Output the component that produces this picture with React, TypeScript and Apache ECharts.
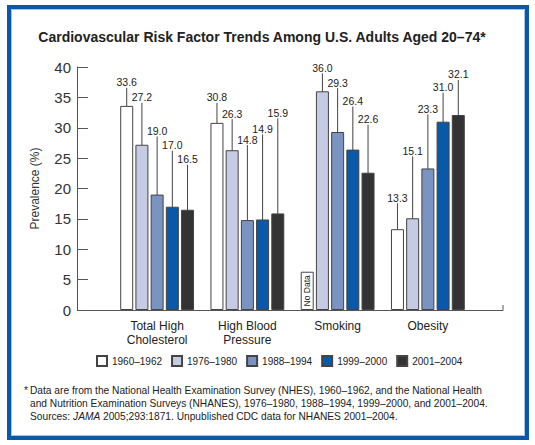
import React, { useEffect, useRef } from "react";
import * as echarts from "echarts";

const FONT = '"Liberation Sans", Arial, Helvetica, sans-serif';

const CATEGORIES = ["Total High\nCholesterol", "High Blood\nPressure", "Smoking", "Obesity"];
const YEARS = ["1960–1962", "1976–1980", "1988–1994", "1999–2000", "2001–2004"];

const S1960: (number | null)[] = [33.6, 30.8, null, 13.3];
const S1976 = [27.2, 26.3, 36.0, 15.1];
const S1988 = [19.0, 14.8, 29.3, 23.3];
const S1999 = [17.0, 14.9, 26.4, 31.0];
const S2001 = [16.5, 15.9, 22.6, 32.1];

const Y_TICKS = { min: 0, max: 40, interval: 5 };

// height (axis units) of the "No Data" placeholder box
const NO_DATA_BOX = 6.3;

// layout: px between bar top and its value label (staggered labels with leader lines)
const LABEL_LIFT: (number | null)[][] = [
  [15, 17, null, 23],
  [39, 28, 15, 59],
  [55, 72, 41, 51],
  [53, 82, 40, 26],
  [42, 92, 45, 32],
];

const COLORS = ["#ffffff", "#c4cbe3", "#7a93c1", "#0a58a8", "#333333"];

const FOOTNOTE = [
  "Data are from the National Health Examination Survey (NHES), 1960–1962, and the National Health",
  "and Nutrition Examination Surveys (NHANES), 1976–1980, 1988–1994, 1999–2000, and 2001–2004.",
  "Sources: {i|JAMA} 2005;293:1871. Unpublished CDC data for NHANES 2001–2004.",
];

export default function App() {
  const ref = useRef<HTMLDivElement>(null);
  useEffect(() => {
    if (!ref.current) return;
    const chart = echarts.init(ref.current, null, { renderer: "svg" });
    const values = [S1960, S1976, S1988, S1999, S2001];
    const series = YEARS.map((name, si) => ({
      type: "bar",
      name,
      barWidth: 13,
      barGap: "17%",
      itemStyle: { color: COLORS[si], borderColor: "#444", borderWidth: 1 },
      label: {
        show: true,
        position: "top",
        distance: 0,
        padding: [0, 0, 3, 0],
        fontSize: 10.5,
        fontFamily: FONT,
        color: "#222",
        formatter: (p: any) => Number(p.value).toFixed(1),
      },
      labelLine: { show: true, lineStyle: { color: "#444", width: 1 } },
      labelLayout: (p: any) => {
        const lift = LABEL_LIFT[si][p.dataIndex];
        if (lift == null) return {};
        const top = Math.min(p.rect.y, p.rect.y + p.rect.height);
        return {
          x: p.rect.x + p.rect.width / 2,
          y: top - lift,
          align: "center",
          verticalAlign: "bottom",
        };
      },
      data: values[si].map((v) =>
        v == null
          ? {
              value: NO_DATA_BOX,
              itemStyle: { color: "#ffffff" },
              label: {
                show: true,
                position: "inside",
                rotate: 90,
                padding: 0,
                fontSize: 8.5,
                color: "#222",
                formatter: "No Data",
              },
              labelLine: { show: false },
            }
          : v
      ),
    }));

    const footGraphics: any[] = FOOTNOTE.map((t, i) => ({
      type: "text",
      x: 30,
      y: 390 + i * 13,
      style: {
        text: t,
        fontSize: 10.2,
        fontFamily: FONT,
        fill: "#222",
        textVerticalAlign: "middle",
        rich: { i: { fontStyle: "italic", fontSize: 10.2, fontFamily: FONT, fill: "#222" } },
      },
    }));

    chart.setOption({
      animation: false,
      backgroundColor: "#ffffff",
      textStyle: { fontFamily: FONT },
      grid: { left: 112, right: 62, top: 67, bottom: 135 },
      legend: {
        left: 91,
        top: 350,
        icon: "rect",
        itemWidth: 10,
        itemHeight: 10,
        itemGap: 9,
        textStyle: { fontSize: 10, color: "#222", fontFamily: FONT },
        data: YEARS,
      },
      xAxis: {
        type: "category",
        data: CATEGORIES,
        axisLine: { show: false },
        axisTick: { show: false },
        axisLabel: { fontSize: 12, color: "#222", lineHeight: 14, margin: 9, interval: 0, fontFamily: FONT },
      },
      yAxis: {
        type: "value",
        min: Y_TICKS.min,
        max: Y_TICKS.max,
        interval: Y_TICKS.interval,
        offset: 35,
        axisLine: { show: true, lineStyle: { color: "#555", width: 1 } },
        axisTick: { show: true, inside: true, length: 11, lineStyle: { color: "#555" } },
        axisLabel: { fontSize: 15, color: "#333", margin: 6, fontFamily: FONT },
        splitLine: { show: false },
        name: "Prevalence (%)",
        nameLocation: "middle",
        nameGap: 36,
        nameTextStyle: { fontSize: 12, color: "#333", fontFamily: FONT },
      },
      series,
      graphic: [
        {
          type: "rect",
          shape: { x: 9, y: 7, width: 518, height: 431 },
          style: { fill: "none", stroke: "#0a58a8", lineWidth: 4 },
          silent: true,
        },
        {
          type: "rect",
          shape: { x: 11.5, y: 9.5, width: 513, height: 426 },
          style: { fill: "none", stroke: "#a9c3e3", lineWidth: 1 },
          silent: true,
        },
        {
          type: "text",
          x: 262,
          y: 37,
          style: {
            text: "Cardiovascular Risk Factor Trends Among U.S. Adults Aged 20–74*",
            fontSize: 14,
            fontWeight: "bold",
            fontFamily: FONT,
            fill: "#222",
            textAlign: "center",
            textVerticalAlign: "middle",
          },
        },
        {
          type: "line",
          shape: { x1: 77, y1: 310.5, x2: 503, y2: 310.5 },
          style: { stroke: "#555", lineWidth: 1 },
          z: 10,
        },
        {
          type: "line",
          shape: { x1: 503, y1: 310.5, x2: 503, y2: 305 },
          style: { stroke: "#555", lineWidth: 1 },
          z: 10,
        },
        {
          type: "text",
          x: 24,
          y: 390,
          style: { text: "*", fontSize: 10.2, fontFamily: FONT, fill: "#222", textVerticalAlign: "middle" },
        },
        ...footGraphics,
      ],
    });
    return () => chart.dispose();
  }, []);
  return (
    <div
      ref={ref}
      style={{ position: "absolute", left: 0, top: 0, width: 535, height: 445 }}
    />
  );
}
